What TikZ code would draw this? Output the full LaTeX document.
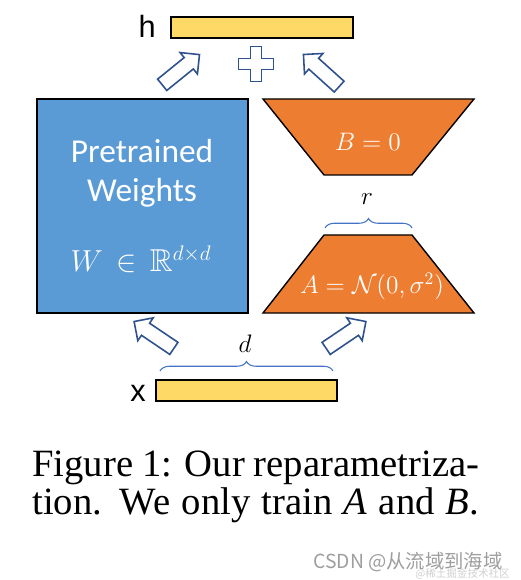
\documentclass[tikz,border=0pt]{standalone}
\usepackage{amsmath, amssymb}
\usepackage{fontspec}
\setmainfont{Liberation Serif}
\newfontfamily\calibrifont{Carlito}
\newfontfamily\arialfont{Liberation Sans}
\newfontfamily\cjk{Noto Sans CJK SC}
\usetikzlibrary{shapes.arrows, decorations.pathreplacing}
\definecolor{wblue}{HTML}{5B9BD5}
\definecolor{lrorange}{HTML}{ED7D31}
\definecolor{vecyellow}{HTML}{FFD966}
\definecolor{arrowblue}{HTML}{2F528F}
\definecolor{braceblue}{HTML}{4472C4}

\begin{document}
\begin{tikzpicture}[x=0.02cm, y=-0.02cm,
    vecbar/.style={draw=black, fill=vecyellow, line width=0.8pt, inner sep=0pt, minimum height=0.42cm},
    veclabel/.style={font=\arialfont\fontsize{17.5}{17.5}\selectfont, inner sep=0pt},
    blockarrow/.style={single arrow, draw=arrowblue, fill=white, line width=0.9pt, inner xsep=0pt, inner ysep=0.13cm,
        minimum height=0.96cm, single arrow head extend=0.13cm, single arrow tip angle=90},
    lowrank/.style={draw=black, fill=lrorange, line width=0.8pt},
    mathlbl/.style={text=white, inner sep=0pt, anchor=base},
    captionline/.style={anchor=base west, inner sep=0pt, font=\fontsize{22}{22}\selectfont},
    sizebrace/.style={draw=braceblue, line width=0.6pt, decorate, decoration={brace, amplitude=0.19cm, aspect=0.5}}]
    % page background and margins
    \fill[white] (0,0) rectangle (520,580);
    \useasboundingbox (0,0) rectangle (520,580);

    % Output and input vectors
    \node[vecbar, minimum width=3.64cm] (hbar) at (262,27.5) {};
    \node[veclabel, anchor=base east] (hlbl) at (156,38) {h};
    \node[vecbar, minimum width=3.62cm] (xbar) at (246.5,390.5) {};
    \node[veclabel, anchor=base east] (xlbl) at (146,401) {x};

    % Pretrained weights
    \node[draw=black, fill=wblue, line width=0.8pt, minimum width=4.22cm, minimum height=4.28cm] (W) at (142.5,206) {};
    \node[text=white, font=\calibrifont\fontsize{19}{19}\selectfont, inner sep=0pt, anchor=base] (Wname1) at (142,163) {Pretrained};
    \node[text=white, font=\calibrifont\fontsize{19}{19}\selectfont, inner sep=0pt, anchor=base] (Wname2) at (142,202) {Weights};
    \node[mathlbl, font=\fontsize{18}{18}\selectfont] (Wdim) at (141,272) {$W \,\in\, \mathbb{R}^{d\times d}$};

    % Low-rank matrices
    \draw[lowrank] (263,99) -- (474,99) -- (412,175) -- (324,175) -- cycle;
    \node[mathlbl, font=\fontsize{14}{14}\selectfont] (Blbl) at (368,151) {$B = 0$};
    \draw[lowrank] (324,235) -- (412,235) -- (474,313) -- (263,313) -- cycle;
    \node[mathlbl, font=\fontsize{14.5}{14.5}\selectfont] (Albl) at (372,294) {$A = \mathcal{N}(0,\sigma^2)$};

    % Dimension braces
    \coordinate (rL) at (325,228);
    \coordinate (rR) at (412,228);
    \draw[sizebrace] (rL) -- (rR);
    \node[inner sep=0pt, anchor=base, font=\fontsize{14}{14}\selectfont] (rlbl) at (367,205) {$r$};
    \coordinate (dL) at (160,371);
    \coordinate (dR) at (333,371);
    \draw[sizebrace] (dL) -- (dR);
    \node[inner sep=0pt, anchor=base, font=\fontsize{15}{15}\selectfont] (dlbl) at (245,352) {$d$};

    % Block arrows
    \foreach \name/\pos/\ang in {arrWh/{178,72}/39, arrBh/{324,73}/138, arrxW/{157,337}/146, arrxA/{343,337}/34}
        \node[blockarrow, rotate=\ang] (\name) at (\pos) {};

    % Sum sign
    \coordinate (plus) at (256,64);
    \draw[arrowblue, fill=white, line width=0.9pt, line join=miter] (plus) ++(-5.5,-17.5) -- ++(11,0) -- ++(0,12) -- ++(12,0) -- ++(0,11) -- ++(-12,0) -- ++(0,12) -- ++(-11,0) -- ++(0,-12) -- ++(-12,0) -- ++(0,-11) -- ++(12,0) -- cycle;

    % Caption
    \node[captionline] (cap1) at (32,476) {\makebox[8.94cm][s]{Figure 1: Our reparametriza-}};
    \node[captionline] (cap2) at (32,514) {\makebox[8.94cm][s]{tion. We only train \textit{A} and \textit{B}.}};

    % Watermark
    \node[anchor=base west, inner sep=0pt, text=black!38, font=\cjk\fontsize{11}{11}\selectfont] (mark) at (313,568) {CSDN @从流域到海域};
    \node[anchor=base west, inner sep=0pt, text=black!18, font=\cjk\fontsize{6}{6}\selectfont] (mark2) at (415,577) {@稀土掘金技术社区};
\end{tikzpicture}
\end{document}
